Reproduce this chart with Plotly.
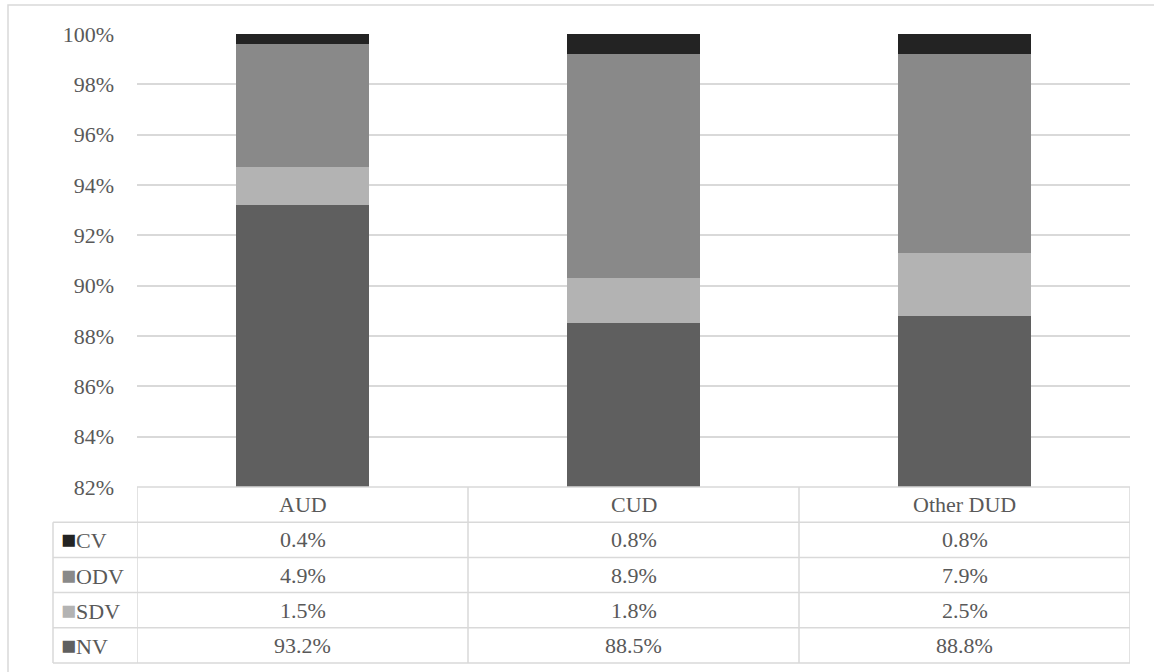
import plotly.graph_objects as go

# ---- data ----
categories = ["AUD", "CUD", "Other DUD"]
series_names = ["NV", "SDV", "ODV", "CV"]          # stacking order, bottom -> top
nv = [93.2, 88.5, 88.8]
sdv = [1.5, 1.8, 2.5]
odv = [4.9, 8.9, 7.9]
cv = [0.4, 0.8, 0.8]
table_rows = ["CV", "ODV", "SDV", "NV"]            # data-table row order
y_ticks = [82, 84, 86, 88, 90, 92, 94, 96, 98, 100]

colors = {"NV": "#5f5f5f", "SDV": "#b3b3b3", "ODV": "#898989", "CV": "#232323"}
series_values = {"NV": nv, "SDV": sdv, "ODV": odv, "CV": cv}

FONT = "Liberation Serif"
TXT = "#595959"
GRID = "#d9d9d9"

W, H = 1154, 672
L, R, T, B = 137, 24, 34, 185
pw, ph = W - L - R, H - T - B
row_h = 35.2 / ph                  # table row height in paper units
legend_left = (53 - L) / pw        # left edge of the legend column (paper units)

fig = go.Figure()
for name in series_names:
    fig.add_trace(go.Bar(
        x=categories, y=series_values[name], name=name,
        marker=dict(color=colors[name], line=dict(width=0)),
        width=0.4, showlegend=False, hoverinfo="skip",
    ))

shapes = []
annotations = []
n_cat = len(categories)
n_rows = len(table_rows)
line = dict(color=GRID, width=1.5)

# horizontal lines of the data table
shapes.append(dict(type="line", xref="paper", yref="paper", x0=0, x1=1, y0=0, y1=0, line=line))
for k in range(1, n_rows + 2):
    shapes.append(dict(type="line", xref="paper", yref="paper", x0=legend_left, x1=1,
                       y0=-k * row_h, y1=-k * row_h, line=line))
# vertical lines
for i in range(n_cat + 1):
    shapes.append(dict(type="line", xref="x", yref="paper", x0=i - 0.5, x1=i - 0.5,
                       y0=-(n_rows + 1) * row_h, y1=0, line=line))
shapes.append(dict(type="line", xref="paper", yref="paper", x0=legend_left, x1=legend_left,
                   y0=-(n_rows + 1) * row_h, y1=-row_h, line=line))

# outer chart frame (clipped on the right/bottom as in the reference)
shapes.append(dict(type="rect", xref="paper", yref="paper",
                   x0=(8 - L) / pw, x1=(1175 - L) / pw,
                   y0=-(700 - (H - B)) / ph, y1=1 + (T - 5) / ph,
                   line=line, fillcolor="rgba(0,0,0,0)", layer="below"))

tfont = dict(family=FONT, size=22, color=TXT)
# header row
for i, c in enumerate(categories):
    annotations.append(dict(x=c, xref="x", y=-0.5 * row_h, yref="paper", text=c,
                            showarrow=False, font=tfont, xanchor="center", yanchor="middle"))
# body rows
for k, name in enumerate(table_rows):
    yk = -(k + 1.5) * row_h
    annotations.append(dict(
        x=legend_left + 6 / pw, xref="paper", y=yk, yref="paper",
        text=f"<span style='color:{colors[name]};font-size:25px'>■</span>{name}",
        showarrow=False, font=tfont, xanchor="left", yanchor="middle"))
    for i, c in enumerate(categories):
        annotations.append(dict(x=c, xref="x", y=yk, yref="paper",
                                text=f"{series_values[name][i]:.1f}%",
                                showarrow=False, font=tfont, xanchor="center", yanchor="middle"))

fig.update_layout(
    width=W, height=H,
    margin=dict(l=L, r=R, t=T, b=B, autoexpand=False),
    paper_bgcolor="white", plot_bgcolor="white",
    barmode="stack", bargap=0.6,
    font=dict(family=FONT, size=22, color=TXT),
    shapes=shapes, annotations=annotations,
    xaxis=dict(range=[-0.5, n_cat - 0.5], showticklabels=False, showgrid=False,
               zeroline=False, showline=False, ticks="", automargin=False),
    yaxis=dict(range=[82, 100], tickvals=y_ticks,
               ticktext=[f"{v}%" for v in y_ticks], showgrid=True, gridcolor=GRID,
               gridwidth=1.5, zeroline=False, showline=False, ticks="", automargin=False,
               ticklabelstandoff=22, tickfont=tfont),
)

fig.write_html("out.html")
